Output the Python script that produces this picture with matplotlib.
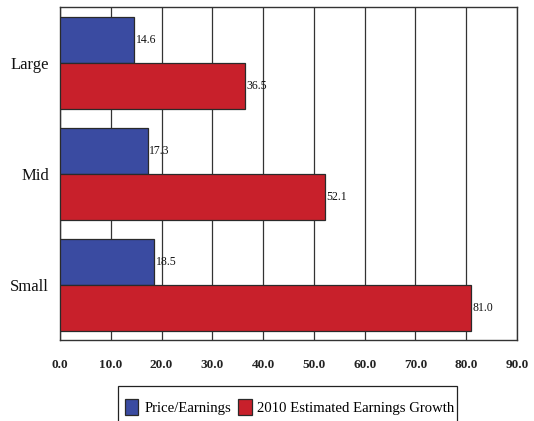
import numpy as np
import matplotlib
matplotlib.use("Agg")
import matplotlib.pyplot as plt
from matplotlib.patches import Rectangle

categories = ["Large", "Mid", "Small"]
pe_ratio = [14.6, 17.3, 18.5]
earnings_growth = [36.5, 52.1, 81.0]
series_names = ["Price/Earnings", "2010 Estimated Earnings Growth"]
xticks = np.arange(0, 91, 10)

plt.rcParams["font.family"] = ["Liberation Serif", "DejaVu Serif"]

BLUE = "#3a4ba1"
RED = "#c8202b"
EDGE = "#2a2a2a"

fig = plt.figure(figsize=(5.34, 4.21), dpi=100)
ax = fig.add_axes([0.1124, 0.1924, 0.8558, 0.7903])

y = np.arange(len(categories))
h = 0.415
b1 = ax.barh(y - h / 2, pe_ratio, height=h, color=BLUE, edgecolor=EDGE,
             linewidth=0.9, label=series_names[0], zorder=3)
b2 = ax.barh(y + h / 2, earnings_growth, height=h, color=RED, edgecolor=EDGE,
             linewidth=0.9, label=series_names[1], zorder=3)

for bars, vals in ((b1, pe_ratio), (b2, earnings_growth)):
    for bar, v in zip(bars, vals):
        ax.text(v + 0.3, bar.get_y() + bar.get_height() / 2, f"{v:.1f}",
                va="center", ha="left", fontsize=8.5, color="#111111",
                zorder=4)

ax.set_xlim(0, 90)
ax.set_ylim(2.5, -0.5)
ax.set_xticks(xticks)
ax.set_xticklabels([f"{t:.1f}" for t in xticks], fontsize=9.5, fontweight="bold",
                   color="#222222")
ax.set_yticks(y)
ax.set_yticklabels(categories, fontsize=12, color="#111111")
ax.tick_params(axis="x", length=0, pad=14)
ax.tick_params(axis="y", length=0, pad=8)
ax.grid(axis="x", color="#333333", linewidth=0.9, zorder=0)
for s in ax.spines.values():
    s.set_color("#333333")
    s.set_linewidth(1.0)

# legend box runs off the bottom edge of the figure
fig.patches.append(Rectangle((118 / 534, -0.05), (457 - 118) / 534,
                             1 - 386 / 421 + 0.05, transform=fig.transFigure,
                             fill=False, edgecolor="#222222", linewidth=0.9))
fig.legend(handles=[b1, b2], loc="center left", ncol=2,
           bbox_to_anchor=(125 / 534, 1 - 407 / 421), fontsize=10.6,
           frameon=False, handlelength=0.9, handleheight=1.25,
           handletextpad=0.4, columnspacing=0.5, borderpad=0,
           borderaxespad=0)

fig.savefig("out.png", dpi=100)
